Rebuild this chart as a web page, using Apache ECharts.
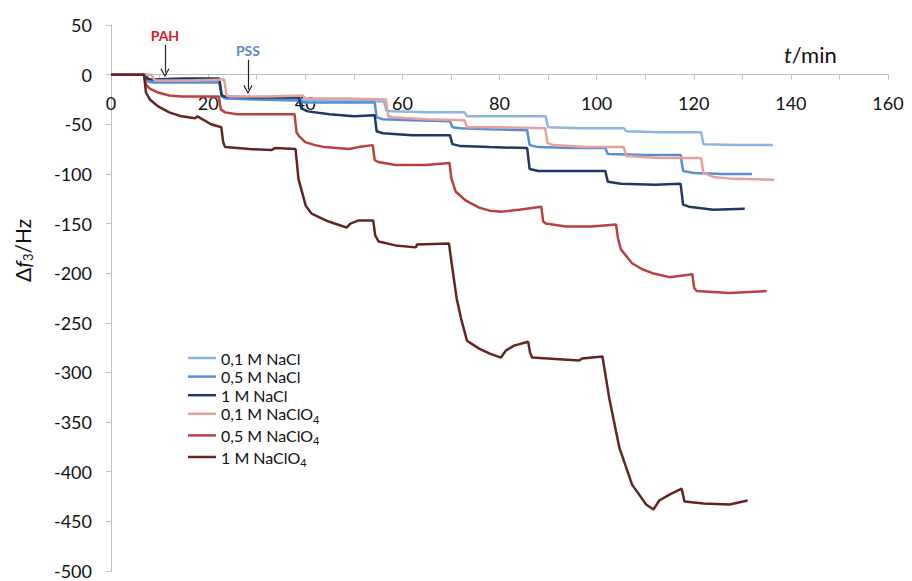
<!DOCTYPE html>
<html>
<head>
<meta charset="utf-8">
<script src="https://cdn.jsdelivr.net/npm/echarts@6/dist/echarts.min.js"></script>
<style>
html,body{margin:0;padding:0;background:#fff;}
#chart{width:912px;height:581px;}
</style>
</head>
<body>
<div id="chart"></div>
<script>
// ---- data: [t/min, Δf3/Hz] ----
var seriesNames = ['0,1 M NaCl', '0,5 M NaCl', '1 M NaCl', '0,1 M NaClO4', '0,5 M NaClO4', '1 M NaClO4'];

var nacl01 = [[0,0],[7.2,0],[7.8,-5],[8.5,-6],[15,-6],[22.3,-6],[22.8,-21],[23.5,-23],[30,-24],[38,-25],[45,-26],[56.2,-27],[56.7,-36],[57.5,-37],[65,-38],[72.8,-38],[73.3,-42],[80,-42],[89.5,-42],[90,-53],[97,-54],[105.6,-54],[106.1,-57],[113,-58],[121.5,-58],[122,-70],[129,-71],[136.3,-71]];

var nacl05 = [[0,0],[7,0],[7.6,-7],[8.5,-8],[15,-8],[22.3,-8],[22.8,-22],[23.5,-24],[30,-25],[38.5,-26],[40,-28],[54.3,-28],[54.7,-43],[56,-45],[62,-46],[69.8,-47],[70.3,-53],[72,-54],[78,-55],[85.7,-56],[86.2,-71],[88,-73],[95,-74],[101.8,-74],[102.3,-80],[110,-81],[117.3,-81],[117.8,-97],[120,-99],[126,-100],[132,-100]];

var nacl1 = [[0,0],[7,0],[7.5,-4],[8.5,-5],[15,-4],[22.3,-4],[22.8,-21],[23.5,-22],[30,-23],[38.7,-23],[39.2,-34],[40.5,-37],[45,-40],[50,-42],[54.3,-41],[54.7,-57],[56,-59],[62,-61],[69.8,-61],[70.3,-70],[72,-72],[78,-73],[85.7,-74],[86.2,-95],[88,-97],[95,-97],[101.8,-97],[102.3,-108],[105,-110],[112,-111],[117.3,-110],[117.8,-131],[119,-133],[124,-136],[130.5,-135]];

var naclo4_01 = [[0,0],[8.3,0],[8.9,-5],[9.5,-6],[16,-6],[23.3,-5],[23.8,-21],[24.5,-22],[32,-22],[39.5,-21],[40,-24],[48,-24],[56.6,-25],[57.1,-42],[58,-43],[65,-45],[72.8,-46],[73.3,-53],[80,-53],[89.4,-54],[89.9,-69],[91,-71],[98,-73],[105.6,-73],[106.1,-82],[113,-84],[121.5,-84],[122,-99],[124,-103],[128,-105],[136.6,-106]];

var naclo4_05 = [[0,0],[6.8,0],[7.2,-10],[8,-14],[9.7,-18],[12,-21],[14.5,-22],[18,-22],[22.2,-22],[22.6,-35],[23.5,-38],[26,-40],[32,-40],[37.8,-40],[38.2,-58],[38.7,-62],[40,-68],[42,-71],[44,-73],[49,-75],[51,-73],[53.9,-71],[54.3,-86],[55,-88],[58.6,-91],[64.8,-91],[69.7,-89],[70.1,-105],[71,-118],[73.1,-127],[75.8,-134],[78,-137],[80.5,-138],[84,-136],[88.6,-133],[89,-148],[89.5,-150],[93.7,-153],[99,-153],[104,-151],[104.4,-165],[105,-176],[107.3,-190],[109.4,-196],[111.5,-200],[115,-204],[119.7,-201],[120.1,-215],[120.6,-218],[127.4,-220],[135,-218]];

var naclo4_1 = [[0,0],[6.8,0],[7.2,-18],[8,-25],[9.7,-32],[12,-38],[14.5,-42],[17.3,-44],[17.8,-42],[20.6,-50],[22.7,-53],[23.1,-68],[23.5,-73],[28.5,-75],[33,-76],[33.8,-74],[38,-75],[38.3,-90],[38.6,-105],[40.1,-132],[41.3,-140],[44.8,-148],[48.5,-154],[49.3,-150],[50.9,-147],[54,-147],[54.4,-162],[55.1,-168],[58.6,-172],[62.8,-174],[63,-171],[69.6,-170],[70,-185],[71.2,-226],[72.1,-246],[73.3,-268],[75.8,-276],[78,-281],[80.3,-285],[81.3,-278],[83,-273],[85.9,-269],[86.3,-280],[86.7,-285],[96.4,-288],[97,-286],[101.2,-284],[102.6,-326],[104.7,-376],[107.3,-413],[110.2,-433],[111.7,-438],[112.9,-429],[115,-423],[117.5,-417],[118.1,-430],[122,-432],[127.4,-433],[131.1,-429]];

var seriesData = [nacl01, nacl05, nacl1, naclo4_01, naclo4_05, naclo4_1];
var seriesColors = ['#8db4e2', '#558ed5', '#1f3864', '#e6a09d', '#b9413e', '#632523'];

// annotation arrows [t, from Δf, to Δf]
var pahArrow = [11.1, 30, 2];
var pssArrow = [28.2, 15, -15];

var xTicks = {min: 0, max: 160, interval: 20};
var yTicks = {min: -500, max: 50, interval: 50};

var FONT = 'Lato, "Noto Sans", sans-serif';
var chevron = 'path://M5,0 L10,9 L9,10 L5,2.6 L1,10 L0,9 Z';

var GRID = {left: 111, right: 24, top: 25, bottom: 10};
var plotH = 581 - GRID.top - GRID.bottom;
// x axis crosses the y axis at Δf = 0: shift the top axis down by the 0..max span
var xAxisOffset = -plotH * (yTicks.max - 0) / (yTicks.max - yTicks.min);

var chart = echarts.init(document.getElementById('chart'), null, {renderer: 'svg'});

var series = seriesNames.map(function (name, i) {
  return {
    name: name,
    type: 'line',
    data: seriesData[i],
    showSymbol: false,
    symbol: 'none',
    smooth: false,
    lineStyle: {width: 2.5, color: seriesColors[i]},
    itemStyle: {color: seriesColors[i]},
    emphasis: {disabled: true},
    animation: false,
    z: 2 + i
  };
});

function arrowLine(a, text, color) {
  return [
    {coord: [a[0], a[1]], label: {show: true, formatter: text, position: 'start', distance: 2,
      color: color, fontWeight: 'bold', fontSize: 14, fontFamily: FONT}},
    {coord: [a[0], a[2]]}
  ];
}

series.push({
  name: 'annot',
  type: 'line',
  data: [],
  silent: true,
  animation: false,
  markLine: {
    silent: true,
    animation: false,
    symbol: ['none', chevron],
    symbolSize: [9, 9],
    lineStyle: {color: '#222', width: 1.2, type: 'solid'},
    emphasis: {disabled: true},
    data: [arrowLine(pahArrow, 'PAH', '#e8131e'), arrowLine(pssArrow, 'PSS', '#5b8bcc')]
  }
});

var option = {
  backgroundColor: '#fff',
  animation: false,
  textStyle: {fontFamily: FONT},
  grid: {left: GRID.left, right: GRID.right, top: GRID.top, bottom: GRID.bottom, containLabel: false, outerBoundsMode: 'none'},
  xAxis: {
    type: 'value',
    position: 'top',
    offset: xAxisOffset,
    min: xTicks.min, max: xTicks.max, interval: xTicks.interval,
    axisLine: {show: true, onZero: false, lineStyle: {color: '#bfbfbf', width: 1}},
    axisTick: {show: true, length: 5, inside: true, lineStyle: {color: '#bfbfbf'}},
    minorTick: {show: true, splitNumber: 2, length: 5, lineStyle: {color: '#bfbfbf'}},
    splitLine: {show: false},
    minorSplitLine: {show: false},
    axisLabel: {show: true, inside: true, fontSize: 18, color: '#111', margin: 19, fontFamily: FONT,
      showMinLabel: true, showMaxLabel: true}
  },
  yAxis: {
    type: 'value',
    min: yTicks.min, max: yTicks.max, interval: yTicks.interval,
    axisLine: {show: true, onZero: false, lineStyle: {color: '#bfbfbf', width: 1}},
    axisTick: {show: true, length: 5, lineStyle: {color: '#bfbfbf'}},
    splitLine: {show: false},
    axisLabel: {show: true, fontSize: 18, color: '#111', margin: 19, fontFamily: FONT}
  },
  legend: {
    show: true,
    orient: 'vertical',
    left: 183,
    top: 345,
    itemWidth: 28,
    itemHeight: 2.5,
    itemGap: 2.6,
    icon: 'rect',
    data: seriesNames,
    selectedMode: false,
    formatter: function (n) {
      if (n.indexOf('NaClO4') >= 0) {
        return '{b|' + n.replace('NaClO4', 'NaClO') + '}{s|4}';
      }
      return '{b|' + n + '}';
    },
    textStyle: {
      color: '#111', fontSize: 16, fontFamily: FONT,
      rich: {
        b: {fontSize: 16, lineHeight: 18, color: '#111', fontFamily: FONT},
        s: {fontSize: 11, lineHeight: 10, verticalAlign: 'bottom', color: '#111', fontFamily: FONT, padding: [0, 0, -2, 0]}
      }
    }
  },
  graphic: [
    {
      type: 'text',
      left: 784, top: 43,
      silent: true,
      style: {
        text: '{i|t}{n|/min}',
        rich: {
          i: {fontSize: 22, fontStyle: 'italic', fill: '#111', fontFamily: FONT},
          n: {fontSize: 22, fill: '#111', fontFamily: FONT}
        }
      }
    },
    {
      type: 'text',
      x: 10, y: 282,
      rotation: Math.PI / 2,
      silent: true,
      style: {
        text: '{a|Δ}{i|f}{s|3}{a|/Hz}',
        rich: {
          a: {fontSize: 21, lineHeight: 24, fill: '#111', fontFamily: FONT},
          i: {fontSize: 21, lineHeight: 24, fontStyle: 'italic', fill: '#111', fontFamily: FONT},
          s: {fontSize: 13, lineHeight: 13, verticalAlign: 'bottom', fill: '#111', fontFamily: FONT}
        }
      }
    }
  ],
  series: series
};

chart.setOption(option);
</script>
</body>
</html>
